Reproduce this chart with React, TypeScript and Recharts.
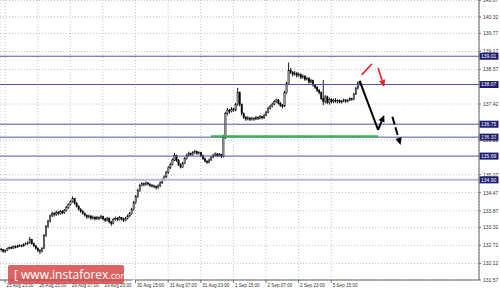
import { Bar, CartesianGrid, ComposedChart, ReferenceLine, XAxis, YAxis } from "recharts";

// hourly candles [open, high, low, close], 25 Aug 21:00 onwards
const candles: number[][] = [
  [132.6, 132.64, 132.52, 132.58], [132.58, 132.6, 132.48, 132.52], [132.52, 132.58, 132.47, 132.55],
  [132.55, 132.65, 132.53, 132.62], [132.62, 132.68, 132.58, 132.65], [132.65, 132.69, 132.6, 132.63],
  [132.63, 132.71, 132.61, 132.68], [132.68, 132.72, 132.62, 132.66], [132.66, 132.74, 132.64, 132.7],
  [132.7, 132.76, 132.67, 132.72], [132.72, 132.75, 132.66, 132.7], [132.7, 132.79, 132.68, 132.75],
  [132.75, 132.82, 132.72, 132.78], [132.78, 132.86, 132.74, 132.8], [132.8, 133.0, 132.78, 132.92],
  [132.92, 132.94, 132.74, 132.78], [132.78, 132.82, 132.66, 132.7], [132.7, 132.74, 132.58, 132.62],
  [132.62, 132.66, 132.5, 132.55], [132.55, 132.6, 132.43, 132.52], [132.52, 132.66, 132.48, 132.62],
  [132.62, 133.1, 132.6, 133.05], [133.05, 133.4, 133.0, 133.35], [133.35, 133.58, 133.3, 133.52],
  [133.52, 133.75, 133.48, 133.7], [133.7, 133.84, 133.66, 133.78], [133.78, 133.82, 133.68, 133.74],
  [133.74, 133.88, 133.7, 133.82], [133.82, 133.86, 133.72, 133.78], [133.78, 133.9, 133.74, 133.85],
  [133.85, 133.89, 133.75, 133.8], [133.8, 133.93, 133.77, 133.88], [133.88, 134.03, 133.85, 133.98],
  [133.98, 134.12, 133.94, 134.08], [134.08, 134.22, 134.04, 134.18], [134.18, 134.35, 134.14, 134.28],
  [134.28, 134.3, 134.08, 134.12], [134.12, 134.16, 133.98, 134.02], [134.02, 134.06, 133.88, 133.92],
  [133.92, 133.96, 133.8, 133.85], [133.85, 133.9, 133.74, 133.78], [133.78, 133.82, 133.68, 133.72],
  [133.72, 133.76, 133.6, 133.66], [133.66, 133.75, 133.62, 133.7], [133.7, 133.73, 133.57, 133.62],
  [133.62, 133.71, 133.58, 133.66], [133.66, 133.69, 133.55, 133.6], [133.6, 133.7, 133.57, 133.65],
  [133.65, 133.68, 133.56, 133.62], [133.62, 133.74, 133.59, 133.68], [133.68, 133.71, 133.55, 133.6],
  [133.6, 133.64, 133.5, 133.55], [133.55, 133.67, 133.52, 133.62], [133.62, 133.65, 133.45, 133.5],
  [133.5, 133.54, 133.37, 133.45], [133.45, 133.63, 133.42, 133.58], [133.58, 133.68, 133.55, 133.62],
  [133.62, 133.66, 133.53, 133.58], [133.58, 133.7, 133.55, 133.64], [133.64, 133.67, 133.55, 133.6],
  [133.6, 133.64, 133.5, 133.55], [133.55, 133.67, 133.52, 133.62], [133.62, 133.75, 133.58, 133.7],
  [133.7, 133.83, 133.66, 133.78], [133.78, 133.97, 133.74, 133.92], [133.92, 134.2, 133.88, 134.15],
  [134.15, 134.4, 134.1, 134.35], [134.35, 134.6, 134.3, 134.55], [134.55, 134.77, 134.5, 134.72],
  [134.72, 134.82, 134.68, 134.78], [134.78, 134.8, 134.68, 134.74], [134.74, 134.85, 134.7, 134.8],
  [134.8, 134.83, 134.71, 134.76], [134.76, 134.79, 134.66, 134.72], [134.72, 134.76, 134.64, 134.7],
  [134.7, 134.74, 134.62, 134.68], [134.68, 134.71, 134.58, 134.64], [134.64, 134.75, 134.6, 134.7],
  [134.7, 134.85, 134.66, 134.8], [134.8, 134.95, 134.76, 134.9], [134.9, 135.05, 134.86, 135.0],
  [135.0, 135.2, 134.96, 135.15], [135.15, 135.35, 135.1, 135.3], [135.3, 135.47, 135.26, 135.42],
  [135.42, 135.62, 135.38, 135.56], [135.56, 135.8, 135.52, 135.7], [135.7, 135.74, 135.5, 135.55],
  [135.55, 135.59, 135.36, 135.4], [135.4, 135.45, 135.28, 135.32], [135.32, 135.5, 135.3, 135.45],
  [135.45, 135.65, 135.42, 135.6], [135.6, 135.77, 135.57, 135.72], [135.72, 135.84, 135.68, 135.78],
  [135.78, 135.81, 135.69, 135.74], [135.74, 135.86, 135.7, 135.8], [135.8, 135.9, 135.76, 135.84],
  [135.84, 135.87, 135.73, 135.78], [135.78, 135.85, 135.74, 135.8], [135.8, 135.83, 135.65, 135.7],
  [135.7, 135.74, 135.56, 135.6], [135.6, 135.64, 135.48, 135.52], [135.52, 135.56, 135.43, 135.48],
  [135.48, 135.61, 135.45, 135.56], [135.56, 135.7, 135.53, 135.66], [135.66, 135.77, 135.62, 135.72],
  [135.72, 135.81, 135.68, 135.76], [135.76, 135.79, 135.66, 135.7], [135.7, 135.79, 135.67, 135.74],
  [135.74, 135.77, 135.62, 135.68], [135.68, 136.4, 135.64, 136.3], [136.3, 137.16, 136.26, 137.1],
  [137.1, 137.3, 137.04, 137.22], [137.22, 137.26, 137.1, 137.18], [137.18, 137.32, 137.14, 137.26],
  [137.26, 137.3, 137.16, 137.22], [137.22, 137.46, 137.18, 137.4], [137.4, 137.96, 137.36, 137.8],
  [137.8, 137.84, 137.34, 137.4], [137.4, 137.44, 137.04, 137.1], [137.1, 137.14, 136.92, 136.98],
  [136.98, 137.02, 136.86, 136.92], [136.92, 137.02, 136.88, 136.96], [136.96, 136.99, 136.85, 136.9],
  [136.9, 137.0, 136.87, 136.95], [136.95, 136.98, 136.86, 136.92], [136.92, 137.03, 136.89, 136.98],
  [136.98, 137.01, 136.89, 136.94], [136.94, 137.05, 136.91, 137.0], [137.0, 137.03, 136.91, 136.96],
  [136.96, 137.1, 136.93, 137.05], [137.05, 137.2, 137.02, 137.15], [137.15, 137.33, 137.11, 137.28],
  [137.28, 137.4, 137.24, 137.35], [137.35, 137.47, 137.31, 137.42], [137.42, 137.55, 137.38, 137.5],
  [137.5, 137.6, 137.46, 137.56], [137.56, 137.59, 137.4, 137.45], [137.45, 137.49, 137.33, 137.38],
  [137.38, 137.42, 137.28, 137.35], [137.35, 137.86, 137.32, 137.8], [137.8, 138.16, 137.76, 138.1],
  [138.1, 138.8, 138.06, 138.55], [138.55, 138.62, 138.42, 138.48], [138.48, 138.52, 138.34, 138.4],
  [138.4, 138.52, 138.36, 138.45], [138.45, 138.49, 138.3, 138.36], [138.36, 138.46, 138.32, 138.4],
  [138.4, 138.44, 138.25, 138.3], [138.3, 138.41, 138.26, 138.35], [138.35, 138.38, 138.19, 138.24],
  [138.24, 138.33, 138.2, 138.28], [138.28, 138.31, 138.1, 138.15], [138.15, 138.26, 138.11, 138.2],
  [138.2, 138.23, 138.0, 138.05], [138.05, 138.09, 137.92, 137.98], [137.98, 138.02, 137.82, 137.88],
  [137.88, 137.92, 137.74, 137.8], [137.8, 137.84, 137.55, 137.6], [137.6, 138.22, 137.38, 137.5],
  [137.5, 137.72, 137.44, 137.66], [137.66, 137.7, 137.42, 137.48], [137.48, 137.64, 137.4, 137.58],
  [137.58, 137.62, 137.44, 137.5], [137.5, 137.6, 137.45, 137.55], [137.55, 137.62, 137.46, 137.5],
  [137.5, 137.58, 137.44, 137.54], [137.54, 137.57, 137.45, 137.48], [137.48, 137.56, 137.44, 137.52],
  [137.52, 137.6, 137.48, 137.56], [137.56, 137.59, 137.46, 137.5], [137.5, 137.58, 137.47, 137.55],
  [137.55, 137.64, 137.52, 137.6], [137.6, 137.63, 137.53, 137.58], [137.58, 137.8, 137.55, 137.75],
  [137.75, 138.0, 137.72, 137.95], [137.95, 138.18, 137.9, 138.12], [138.12, 138.2, 138.04, 138.16],
];

const slotCount = 235;
const timeTicks = [2, 18, 34, 50, 66, 82, 98, 114, 130, 146, 162];
const timeLabels = [
  "25 Aug 23:00", "26 Aug 15:00", "29 Aug 07:00", "29 Aug 23:00", "30 Aug 15:00", "31 Aug 07:00",
  "31 Aug 23:00", "1 Sep 15:00", "2 Sep 07:00", "2 Sep 23:00", "5 Sep 15:00",
];
const priceTicks = [
  140.87, 140.32, 139.77, 139.17, 138.57, 137.42, 136.22, 135.07, 134.47, 133.87, 133.32, 132.72,
  132.12, 131.57,
];
const levels = [139.01, 138.07, 136.75, 136.32, 135.69];
const softLevel = 134.9;
const greenLevel = { from: 103, to: 185, price: 136.35 };

// annotation strokes: [x1, y1, x2, y2]
const blackPath = [[176, 138.18, 185, 136.56]];
const blackArrows = [[185, 136.56, 188, 137.06]];
const blackDashedArrows = [[192, 137.0, 196, 136.06]];
const redPath = [[177, 138.39, 182, 138.76]];
const redArrows = [[185, 138.62, 188, 137.99]];

const rows = Array.from({ length: slotCount }, (_, i) => {
  const k = candles[i];
  return k ? { i, o: k[0], h: k[1], l: k[2], c: k[3], range: [k[2], k[1]] } : { i };
});

const FONT = "'Liberation Sans', Arial, sans-serif";

function Candle(p: any) {
  const { x, y, width, height, payload } = p;
  if (!payload || payload.o == null) return null;
  const { o, h, l, c } = payload;
  const top = Math.min(y, y + height);
  const hh = Math.abs(height);
  const k = h - l > 0 ? hh / (h - l) : 0;
  const cx = x + width / 2;
  const yO = top + (h - o) * k;
  const yC = top + (h - c) * k;
  const bt = Math.min(yO, yC);
  const bh = Math.max(Math.abs(yO - yC), 0.8);
  const bull = c >= o;
  return (
    <g>
      <line x1={cx} x2={cx} y1={top} y2={top + hh} stroke="#000" strokeWidth={0.9} />
      <rect x={cx - 0.7} y={bt} width={1.4} height={bh} fill={bull ? "#9a9a9a" : "#000"} stroke="#000" strokeWidth={0.4} />
    </g>
  );
}

function stroke(color: string, head: boolean, width: number, dash?: string) {
  return (p: any) => {
    const { x1, y1, x2, y2 } = p;
    const a = Math.atan2(y2 - y1, x2 - x1);
    const L = 7;
    const W = 3.2;
    const bx = x2 - L * Math.cos(a);
    const by = y2 - L * Math.sin(a);
    const pts = `${x2},${y2} ${bx + W * Math.sin(a)},${by - W * Math.cos(a)} ${bx - W * Math.sin(a)},${by + W * Math.cos(a)}`;
    return (
      <g>
        <line x1={x1} y1={y1} x2={head ? bx : x2} y2={head ? by : y2} stroke={color} strokeWidth={width} strokeDasharray={dash} />
        {head && <polygon points={pts} fill={color} />}
      </g>
    );
  };
}

function LevelBox(props: any) {
  const vb = props.viewBox;
  const text = props.text;
  return (
    <g>
      <rect x={vb.x + vb.width + 0.5} y={vb.y - 3.5} width={19} height={7} fill="#1c1c72" />
      <text x={vb.x + vb.width + 2} y={vb.y + 1.8} fontSize={5} fill="#fff" fontFamily={FONT}>
        {text}
      </text>
    </g>
  );
}

function TimeTick(p: any) {
  const { x, y, payload } = p;
  const idx = timeTicks.indexOf(payload.value);
  return (
    <g>
      <line x1={x} x2={x} y1={y} y2={y + 3} stroke="#555" strokeWidth={0.8} />
      <text x={x + 1.5} y={y + 7} fontSize={4.6} fill="#333" fontFamily={FONT}>
        {timeLabels[idx]}
      </text>
    </g>
  );
}

function PriceTick(p: any) {
  const { x, y, payload } = p;
  return (
    <g>
      <line x1={x} x2={x + 2} y1={y} y2={y} stroke="#555" strokeWidth={0.8} />
      <text x={x + 4} y={y + 1.8} fontSize={5} fill="#333" fontFamily={FONT}>
        {payload.value.toFixed(2)}
      </text>
    </g>
  );
}

export default function App() {
  return (
    <div style={{ position: "relative", width: 500, height: 292, background: "#fff" }}>
      <style>{"body{margin:0}"}</style>
      <ComposedChart width={500} height={292} data={rows} margin={{ top: 0, right: 0, bottom: 0, left: 0 }}>
        <CartesianGrid stroke="#c4c4c4" strokeDasharray="1 2" />
        <XAxis
          dataKey="i"
          type="category"
          ticks={timeTicks}
          interval={0}
          height={12}
          tickLine={false}
          tickSize={0}
          tickMargin={0}
          axisLine={{ stroke: "#606060" }}
          tick={<TimeTick />}
        />
        <YAxis
          orientation="right"
          width={21}
          domain={[131.57, 140.88]}
          allowDataOverflow
          ticks={priceTicks}
          interval={0}
          tickLine={false}
          tickSize={0}
          tickMargin={0}
          axisLine={{ stroke: "#606060" }}
          tick={<PriceTick />}
        />
        <ReferenceLine y={softLevel} stroke="#b8b8de" strokeWidth={2} label={<LevelBox text={softLevel.toFixed(2)} />} />
        {levels.map((v) => (
          <ReferenceLine key={v} y={v} stroke="#5252a8" strokeWidth={1} label={<LevelBox text={v.toFixed(2)} />} />
        ))}
        <ReferenceLine
          segment={[{ x: greenLevel.from, y: greenLevel.price }, { x: greenLevel.to, y: greenLevel.price }]}
          stroke="#2fb84a"
          strokeWidth={2}
        />
        <Bar dataKey="range" shape={<Candle />} isAnimationActive={false} />
        {blackPath.map((s, n) => (
          <ReferenceLine key={"bp" + n} segment={[{ x: s[0], y: s[1] }, { x: s[2], y: s[3] }]} shape={stroke("#000", false, 2)} />
        ))}
        {blackArrows.map((s, n) => (
          <ReferenceLine key={"ba" + n} segment={[{ x: s[0], y: s[1] }, { x: s[2], y: s[3] }]} shape={stroke("#000", true, 2)} />
        ))}
        {blackDashedArrows.map((s, n) => (
          <ReferenceLine key={"bd" + n} segment={[{ x: s[0], y: s[1] }, { x: s[2], y: s[3] }]} shape={stroke("#000", true, 2, "8 3")} />
        ))}
        {redPath.map((s, n) => (
          <ReferenceLine key={"rp" + n} segment={[{ x: s[0], y: s[1] }, { x: s[2], y: s[3] }]} shape={stroke("#e8212b", false, 1.6)} />
        ))}
        {redArrows.map((s, n) => (
          <ReferenceLine key={"ra" + n} segment={[{ x: s[0], y: s[1] }, { x: s[2], y: s[3] }]} shape={stroke("#e8212b", true, 1.6)} />
        ))}
      </ComposedChart>
      <div
        style={{
          position: "absolute",
          left: 8,
          top: 265,
          width: 116,
          height: 19,
          background: "rgba(214, 66, 66, 0.82)",
          borderRadius: 2,
          color: "#fff",
          fontFamily: "'Open Sans', sans-serif",
          fontSize: 12,
          lineHeight: "19px",
          whiteSpace: "nowrap",
          paddingLeft: 6,
          boxSizing: "border-box",
        }}
      >
        [ www.instaforex<span style={{ fontSize: 9 }}>.com</span> ]
      </div>
    </div>
  );
}
